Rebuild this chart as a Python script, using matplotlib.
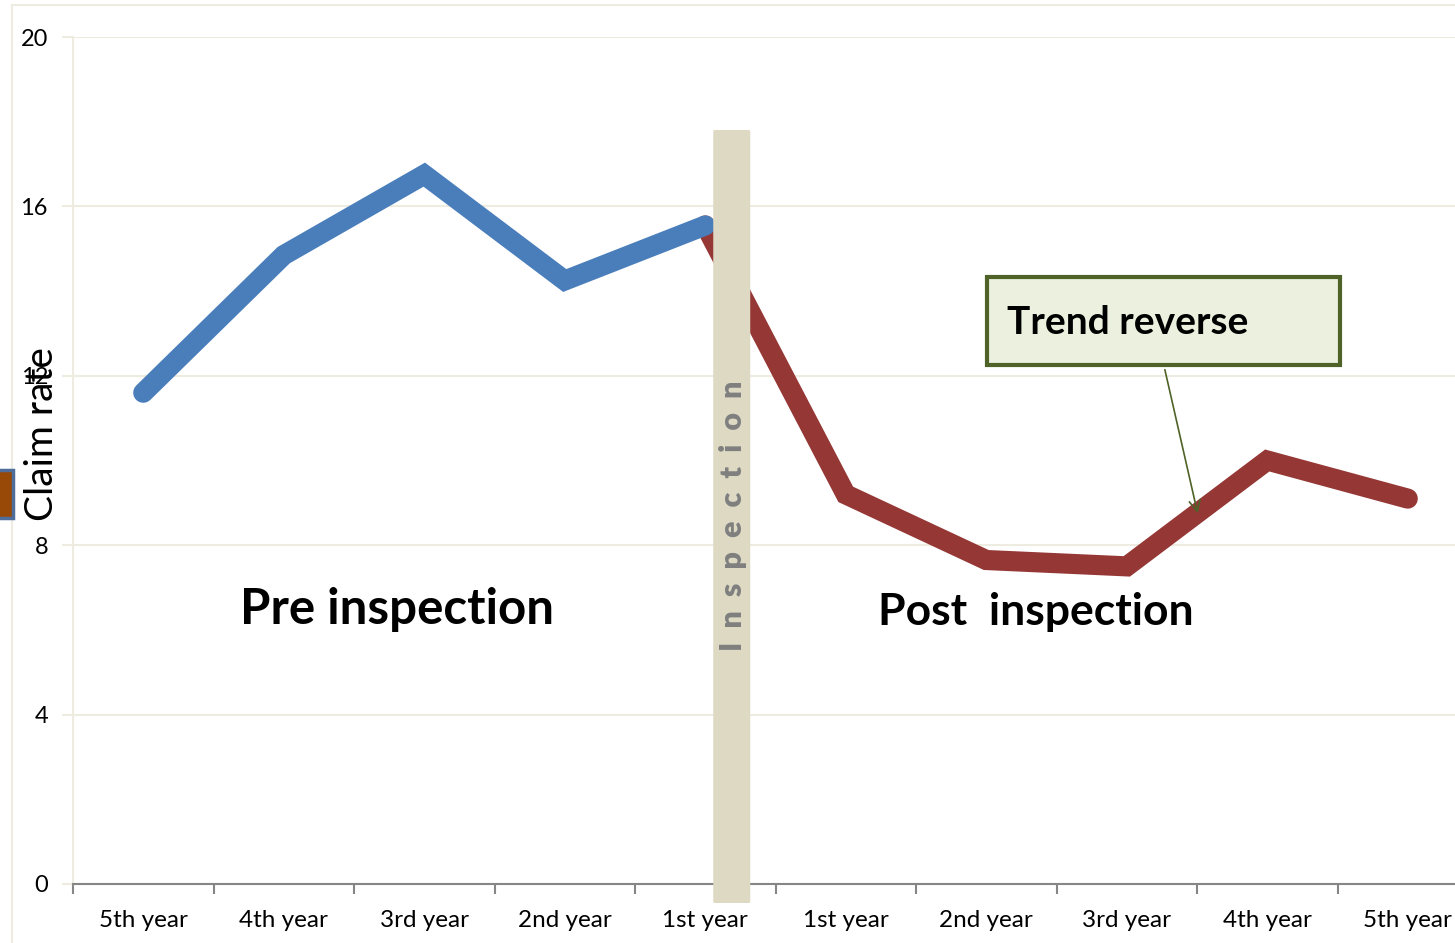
import numpy as np
import matplotlib
matplotlib.use("Agg")
import matplotlib.pyplot as plt
from matplotlib.patches import FancyBboxPatch, Rectangle

plt.rcParams['font.family'] = ['Lato', 'DejaVu Sans']

categories = ["5th year", "4th year", "3rd year", "2nd year", "1st year",
              "1st year", "2nd year", "3rd year", "4th year", "5th year"]
pre_values = [11.6, 14.85, 16.75, 14.25, 15.55, None, None, None, None, None]
post_values = [None, None, None, None, 15.55, 9.2, 7.65, 7.5, 10.0, 9.1]
y_ticks = [0, 4, 8, 12, 16, 20]

W, H = 1455, 943
fig = plt.figure(figsize=(W / 100, H / 100), dpi=100)

# outer chart frame
fig.patches.append(Rectangle((12 / W, -0.1), 1.2, (H - 5) / H + 0.1, transform=fig.transFigure,
                             fill=False, edgecolor='#EEECE1', linewidth=1.5))

x0, x1 = 73, 1478
ytop, ybot = 37, 884
ax = fig.add_axes([x0 / W, (H - ybot) / H, (x1 - x0) / W, (ybot - ytop) / H])
ax.set_facecolor('none')

x = np.arange(len(categories))
pre = np.array([np.nan if v is None else v for v in pre_values], dtype=float)
post = np.array([np.nan if v is None else v for v in post_values], dtype=float)

ax.plot(x, post, color='#953735', linewidth=14.5, solid_capstyle='round', solid_joinstyle='miter', zorder=3)
ax.plot(x, pre, color='#4A7EBB', linewidth=14.5, solid_capstyle='round', solid_joinstyle='miter', zorder=4)

ax.set_xlim(-0.5, len(categories) - 0.5)
ax.set_ylim(0, 20)
ax.set_yticks(y_ticks)
ax.set_yticklabels([str(t) for t in y_ticks], fontsize=17)
ax.set_xticks(x)
ax.set_xticklabels(categories, fontsize=17.5)
ax.set_xticks(np.arange(-0.5, len(categories), 1), minor=True)
ax.tick_params(axis='x', which='major', length=0, pad=19)
ax.tick_params(axis='x', which='minor', length=7, color='#868686', width=1.5)
ax.tick_params(axis='y', length=8, color='#EEECE1', width=1.5, pad=10)
ax.yaxis.grid(True, color='#EEECE1', linewidth=1.5)
ax.set_axisbelow(True)
for s in ['top', 'right']:
    ax.spines[s].set_visible(False)
ax.spines['left'].set_color('#EEECE1')
ax.spines['left'].set_linewidth(1.5)
ax.spines['bottom'].set_color('#868686')
ax.spines['bottom'].set_linewidth(1.5)
ax.spines['bottom'].set_zorder(5)

ax.set_ylabel("Claim rate", fontsize=28, va='center')
ax.yaxis.set_label_coords(-31 / (x1 - x0), (884 - 434) / (ybot - ytop))

# inspection bar
dx = 1.0 / 140.5
dy = 20.0 / (ybot - ytop)
bx0, bx1 = 713, 750
by0, by1 = 903, 130
ax.add_patch(FancyBboxPatch(((bx0 - 143) * dx, (884 - by0) * dy), (bx1 - bx0) * dx, (by0 - by1) * dy,
                            boxstyle="round,pad=0,rounding_size=0.02", facecolor='#DDD9C3',
                            edgecolor='none', clip_on=False, zorder=6))
ax.text((733 - 143) * dx, (884 - 516) * dy, "I  n  s  p  e  c  t  i  o  n", rotation=90,
        ha='center', va='center', fontsize=22, fontweight='heavy', color='#7F7F7F', zorder=7)

ax.text((397 - 143) * dx, (884 - 610) * dy, "Pre inspection", ha='center', va='center',
        fontsize=35.5, fontweight='bold', color='black', zorder=7)
ax.text((1036 - 143) * dx, (884 - 612) * dy, "Post  inspection", ha='center', va='center',
        fontsize=32, fontweight='bold', color='black', zorder=7)

# annotation box
bx, by, bw, bh = 987, 365, 353, 88
ax.add_patch(Rectangle(((bx - 143) * dx, (884 - by) * dy), bw * dx, bh * dy, facecolor='#EBF1DE',
                       edgecolor='#4F6228', linewidth=3, zorder=8, clip_on=False))
ax.text((1007 - 143) * dx, (884 - 323) * dy, "Trend reverse", ha='left', va='center',
        fontsize=28, fontweight='bold', color='black', zorder=9)
ax.annotate("", xy=((1198 - 143) * dx, (884 - 516) * dy), xytext=((1164 - 143) * dx, (884 - 367) * dy),
            arrowprops=dict(arrowstyle='->,head_length=0.8,head_width=0.4', color='#4F6228', lw=1.2),
            zorder=9)

# legend key remnant at left edge
fig.patches.append(Rectangle((-5 / W, (H - 518) / H), 18 / W, 48 / H, transform=fig.transFigure,
                             facecolor='#984807', edgecolor='#4F6D9A', linewidth=2.5))

fig.savefig("out.png", dpi=100)
